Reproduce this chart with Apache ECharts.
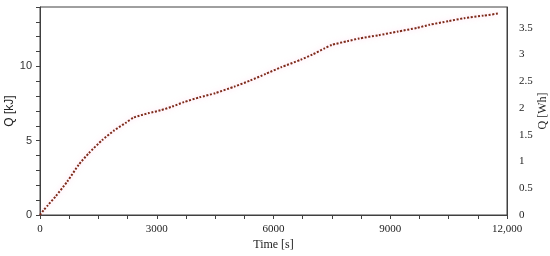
<!DOCTYPE html>
<html>
<head>
<meta charset="utf-8">
<script src="https://cdn.jsdelivr.net/npm/echarts@6/dist/echarts.min.js"></script>
<style>
html,body{margin:0;padding:0;background:#fff;}
#chart{width:550px;height:256px;}
</style>
</head>
<body>
<div id="chart"></div>
<script>
// time [s] and heat [kJ]
const times = [0, 100, 200, 400, 700, 1000, 1250, 1600, 1900, 2200, 2400, 2600, 2800, 3100, 3400, 3700, 4100, 4500, 5000, 5400, 5800, 6200, 6700, 7000, 7300, 7500, 7900, 8200, 8700, 9200, 9700, 10000, 10500, 10900, 11400, 11800]
const heatKJ = [0, 0.35, 0.65, 1.25, 2.25, 3.4, 4.15, 5.05, 5.68, 6.2, 6.55, 6.72, 6.86, 7.05, 7.3, 7.6, 7.92, 8.2, 8.65, 9.05, 9.5, 9.95, 10.45, 10.8, 11.2, 11.45, 11.7, 11.88, 12.1, 12.35, 12.6, 12.8, 13.05, 13.25, 13.42, 13.57]
const kjTicks = [0, 5, 10]
const whTicks = [0, 0.5, 1, 1.5, 2, 2.5, 3, 3.5]

const axisColor = '#404040'
const serif = '"Liberation Serif", "DejaVu Serif", serif'
const sans = '"Liberation Sans", "DejaVu Sans", sans-serif'

const chart = echarts.init(document.getElementById('chart'))

const option = {
    animation: false,
    grid: {
        left: 40,
        right: 43,
        top: 7,
        bottom: 41,
        outerBoundsMode: 'none',
        containLabel: false,
        show: true,
        borderColor: axisColor,
        borderWidth: 1
    },
    xAxis: {
        type: 'value',
        min: 0,
        max: 12000,
        interval: 3000,
        name: 'Time [s]',
        nameLocation: 'middle',
        nameGap: 24,
        nameMoveOverlap: false,
        nameTextStyle: {fontFamily: serif, fontSize: 12, color: '#222'},
        axisLine: {lineStyle: {color: axisColor}},
        axisTick: {show: true, length: 4, lineStyle: {color: axisColor}},
        minorTick: {show: true, splitNumber: 4, length: 4, lineStyle: {color: axisColor}},
        splitLine: {show: false},
        axisLabel: {
            fontFamily: serif,
            fontSize: 11,
            color: '#222',
            margin: 9,
            formatter: v => v >= 10000 ? v.toLocaleString('en-US') : String(v)
        }
    },
    yAxis: [
        {
            type: 'value',
            min: 0,
            max: 14,
            interval: 1,
            name: 'Q [kJ]',
            nameLocation: 'middle',
            nameGap: 24,
            nameRotate: 90,
            nameMoveOverlap: false,
            nameTextStyle: {fontFamily: sans, fontSize: 12, color: '#222'},
            axisLine: {show: true, lineStyle: {color: axisColor}},
            axisTick: {show: true, length: 4, lineStyle: {color: axisColor}},
            splitLine: {show: false},
            axisLabel: {
                fontFamily: sans,
                fontSize: 11,
                color: '#333',
                margin: 8,
                formatter: v => kjTicks.includes(v) ? String(v) : ''
            }
        },
        {
            type: 'value',
            position: 'right',
            min: 0,
            max: 14 / 3.6,
            interval: 0.5,
            name: 'Q [Wh]',
            nameLocation: 'middle',
            nameGap: 30,
            nameRotate: 90,
            nameMoveOverlap: false,
            nameTextStyle: {fontFamily: serif, fontSize: 12, color: '#222'},
            axisLine: {show: true, lineStyle: {color: axisColor}},
            axisTick: {show: false},
            splitLine: {show: false},
            axisLabel: {
                fontFamily: serif,
                fontSize: 11,
                color: '#222',
                margin: 12,
                formatter: v => whTicks.includes(Math.round(v * 10) / 10) && v < 3.6 ? String(v) : ''
            }
        }
    ],
    series: [
        {
            name: 'Q',
            type: 'line',
            data: times.map((t, i) => [t, heatKJ[i]]),
            showSymbol: false,
            smooth: 0.2,
            lineStyle: {
                color: '#7e2a1a',
                width: 2,
                type: [2, 1.6],
                shadowColor: 'rgba(255,170,215,0.55)',
                shadowBlur: 5
            }
        }
    ]
}

chart.setOption(option)
</script>
</body>
</html>
